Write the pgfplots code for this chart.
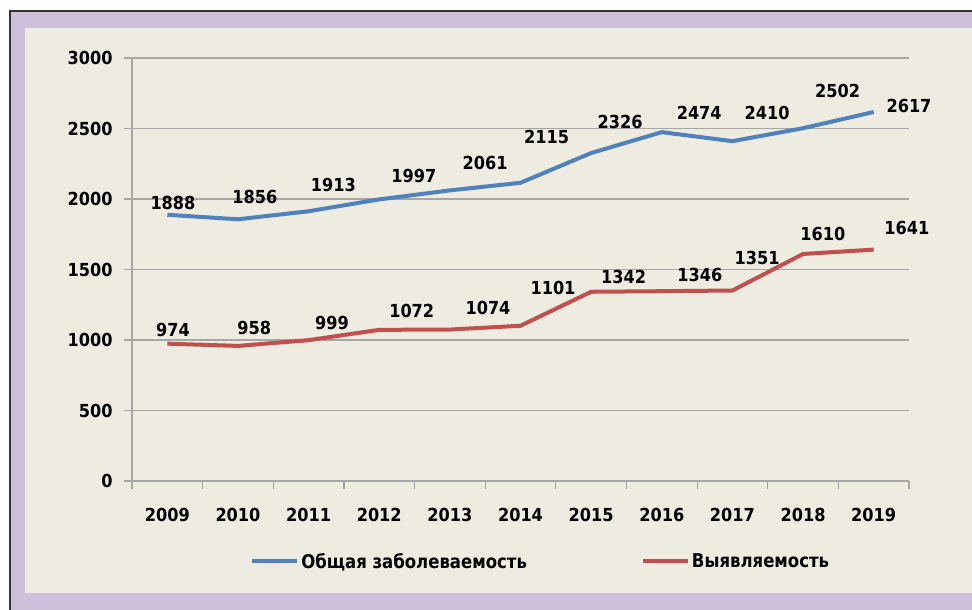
\documentclass[border=0pt]{standalone}
\usepackage{fontspec}
\newfontfamily\lblfont{DejaVu Sans Condensed Bold}
\newfontfamily\legfont{DejaVu Sans Condensed Bold}[FakeStretch=0.97]
\usepackage{pgfplots}
\pgfplotsset{compat=1.18}
\definecolor{lav}{HTML}{CCC0DA}
\definecolor{beige}{HTML}{EEECE1}
\definecolor{sblue}{HTML}{4F81BD}
\definecolor{sred}{HTML}{C0504D}
\definecolor{gridc}{HTML}{A6A6A6}
\pgfplotstableread{
x y lab
0.08 1972 1888
1.24 2014 1856
2.35 2099 1913
3.49 2163 1997
4.50 2255 2061
5.37 2440 2115
6.41 2546 2326
7.53 2610 2474
8.49 2610 2410
9.49 2766 2502
10.50 2660 2617
}\bluelabels
\pgfplotstableread{
x y lab
0.08 1071 974
1.23 1085 958
2.33 1121 999
3.46 1206 1072
4.54 1227 1074
5.46 1369 1101
6.46 1447 1342
7.54 1461 1346
8.35 1582 1351
9.28 1752 1610
10.47 1794 1641
}\redlabels
\begin{document}
\begin{tikzpicture}[x=1bp,y=1bp]
\fill[white] (0,0) rectangle (972,610);
\fill[lav] (10,0) rectangle (972,599);
\fill[beige] (25,17) rectangle (972,582);
\draw[black!80, line width=2bp] (10,0) -- (10,599) -- (972,599);
\begin{axis}[
  at={(132bp,129bp)}, anchor=south west,
  scale only axis, width=777bp, height=423bp,
  xmin=-0.5, xmax=10.5, ymin=0, ymax=3000,
  axis x line*=bottom, axis y line*=left,
  axis line style={gridc, line width=1.2bp},
  clip=false,
  ytick={0,500,...,3000},
  ymajorgrids, grid style={gridc, line width=1.2bp},
  xtick={0,...,10},
  xticklabels={2009,2010,2011,2012,2013,2014,2015,2016,2017,2018,2019},
  minor xtick={-0.5,0.5,...,10.5},
  tick align=outside,
  major tick length=8bp, minor tick length=8bp,
  major x tick style={draw=none},
  minor x tick style={gridc, line width=1.2bp},
  major y tick style={gridc, line width=1.2bp},
  /pgf/number format/assume math mode=true,
  /pgf/number format/1000 sep={},
  ticklabel style={font=\lblfont\fontsize{18}{20}\selectfont},
  xticklabel style={yshift=-16bp},
  yticklabel style={xshift=-8bp},
  legend style={at={(0.526,-0.19)}, anchor=center, draw=none, fill=none,
    font=\legfont\fontsize{19}{22}\selectfont, legend columns=2,
    /tikz/every even column/.append style={column sep=112bp}},
  legend image code/.code={\draw[#1, line width=4bp] (0bp,0bp) -- (45bp,0bp);},
]
\addplot[sblue, line width=4bp, line join=round, mark=none] coordinates {
(0,1888) (1,1856) (2,1913) (3,1997) (4,2061) (5,2115) (6,2326) (7,2474) (8,2410) (9,2502) (10,2617)};
\addlegendentry{Общая заболеваемость}
\addplot[sred, line width=4bp, line join=round, mark=none] coordinates {
(0,974) (1,958) (2,999) (3,1072) (4,1074) (5,1101) (6,1342) (7,1346) (8,1351) (9,1610) (10,1641)};
\addlegendentry{Выявляемость}
\addplot[forget plot, draw=none, mark=none, nodes near coords, point meta=explicit symbolic,
  nodes near coords style={anchor=center, inner sep=0pt, font=\lblfont\fontsize{18}{20}\selectfont}]
  table[x=x, y=y, meta=lab] {\bluelabels};
\addplot[forget plot, draw=none, mark=none, nodes near coords, point meta=explicit symbolic,
  nodes near coords style={anchor=center, inner sep=0pt, font=\lblfont\fontsize{18}{20}\selectfont}]
  table[x=x, y=y, meta=lab] {\redlabels};
\end{axis}
\pgfresetboundingbox
\path[use as bounding box] (0,0) rectangle (972,610);
\end{tikzpicture}
\end{document}
